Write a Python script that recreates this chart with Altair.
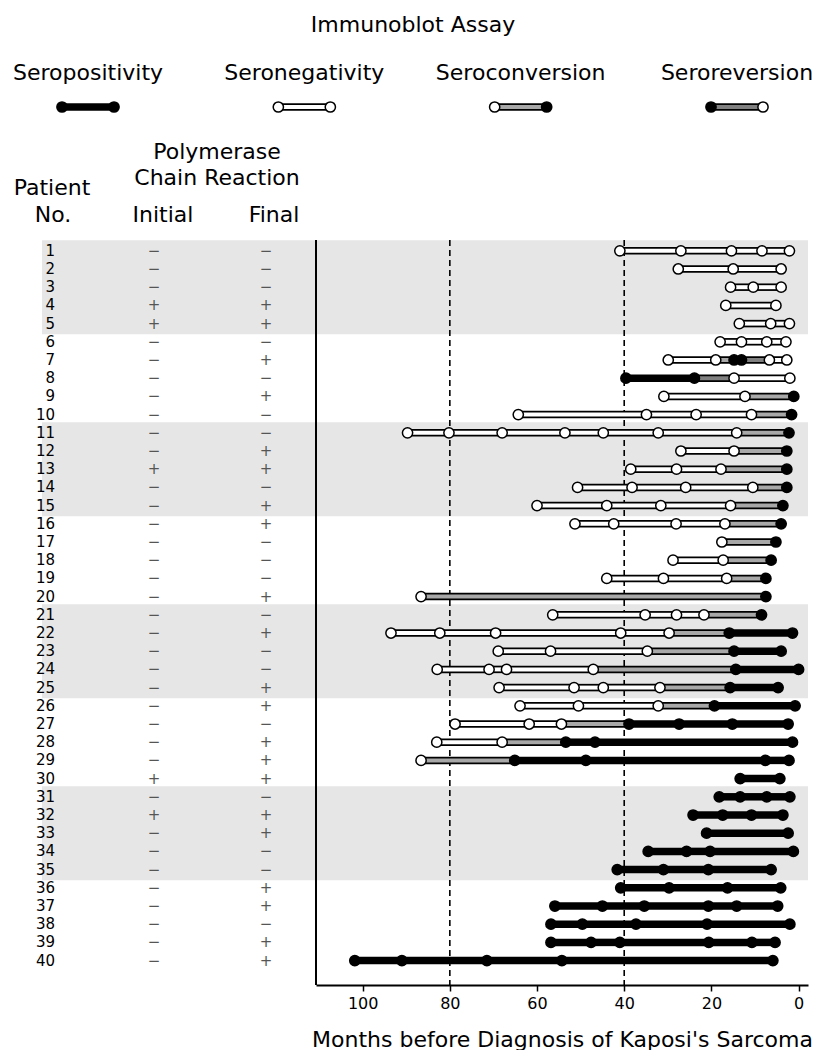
import altair as alt
import pandas as pd

# ---------------- data ----------------
patients = list(range(1, 41))
pcr_initial = ["−", "−", "−", "+", "+", "−", "−", "−", "−", "−",
               "−", "−", "+", "−", "−", "−", "−", "−", "−", "−",
               "−", "−", "−", "−", "−", "−", "−", "−", "−", "+",
               "−", "+", "−", "−", "−", "−", "−", "−", "−", "−"]
pcr_final = ["−", "−", "−", "+", "+", "−", "+", "−", "+", "−",
             "−", "+", "+", "−", "+", "+", "−", "−", "−", "+",
             "−", "+", "−", "−", "+", "+", "−", "+", "+", "+",
             "−", "+", "+", "−", "−", "+", "+", "−", "+", "+"]

# months before diagnosis of each immunoblot test, and result (N = negative, P = positive)
visit_months = [
    [41, 27, 15.4, 8.4, 2.1],
    [27.6, 15, 4],
    [15.6, 10.4, 4],
    [16.7, 5.2],
    [13.6, 6.4, 2.1],
    [18, 13.1, 7.3, 2.9],
    [29.9, 19, 14.8, 13.1, 6.7, 2.7],
    [39.6, 23.9, 14.8, 2.0],
    [30.9, 12.3, 1.1],
    [64.3, 34.9, 23.5, 10.8, 1.6],
    [89.7, 80.2, 68, 53.6, 44.8, 32.2, 14.2, 2.2],
    [27, 14.8, 2.7],
    [38.5, 28, 17.8, 2.7],
    [50.7, 38.2, 25.9, 10.5, 2.7],
    [60, 44, 31.6, 15.6, 3.6],
    [51.3, 42.4, 28.1, 16.9, 4],
    [17.6, 5.2],
    [28.8, 17.3, 6.3],
    [44, 31, 16.5, 7.5],
    [86.6, 7.5],
    [56.4, 35.2, 28, 21.7, 8.5],
    [93.5, 82.3, 69.5, 40.8, 29.7, 15.9, 1.4],
    [68.9, 56.9, 34.7, 14.8, 4],
    [82.9, 71, 67, 47.1, 14.4, 0],
    [68.7, 51.5, 44.8, 31.8, 15.7, 4.7],
    [63.9, 50.5, 32.2, 19.3, 0.8],
    [78.8, 61.8, 54.4, 38.9, 27.4, 15.2, 2.4],
    [83, 68, 53.4, 46.7, 1.4],
    [86.6, 65.1, 48.8, 7.6, 2.2],
    [13.4, 4.3],
    [18.2, 13.4, 7.3, 2],
    [24.2, 17.4, 10.8, 3.6],
    [21.1, 2.4],
    [34.5, 25.7, 20.3, 1.2],
    [41.6, 31, 20.7, 6.3],
    [40.8, 29.7, 16.3, 4.1],
    [55.9, 45, 35.4, 20.7, 14.2, 4.8],
    [56.8, 49.6, 37.3, 21, 2],
    [56.8, 47.6, 41, 20.6, 10.7, 5.4],
    [101.8, 91, 71.5, 54.3, 5.9],
]
visit_status = [
    "NNNNN", "NNN", "NNN", "NN", "NNN", "NNNN", "NNPPNN", "PPNN", "NNP", "NNNNP",
    "NNNNNNNP", "NNP", "NNNP", "NNNNP", "NNNNP", "NNNNP", "NP", "NNP", "NNNP", "NP",
    "NNNNP", "NNNNNPP", "NNNPP", "NNNNPP", "NNNNPP", "NNNPP", "NNNPPPP", "NNPPP", "NPPPP", "PP",
    "PPPP", "PPPP", "PP", "PPPP", "PPPP", "PPPP", "PPPPPP", "PPPPP", "PPPPPP", "PPPPP",
]

kinds = ["Seropositivity", "Seronegativity", "Seroconversion", "Seroreversion"]
kind_fill = ["#000000", "#ffffff", "#a8a8a8", "#808080"]
kind_from = ["P", "N", "N", "P"]
kind_to = ["P", "N", "P", "N"]
axis_ticks = [0, 20, 40, 60, 80, 100]
reference_months = [80, 40]

# ---------------- layout / style ----------------
FONT = "DejaVu Sans"
W_TEXT, W_PLOT, H_PLOT, H_HEAD, W_HEAD = 308, 492, 745, 232, 800
BAND = "#e6e6e6"

# ---------------- tables ----------------
pair_kind = {(f, t): k for k, f, t in zip(kinds, kind_from, kind_to)}
pts, segs = [], []
for p, ms, st in zip(patients, visit_months, visit_status):
    for m, s in zip(ms, st):
        pts.append({"patient": p, "month": m, "status": s})
    for i in range(len(ms) - 1):
        segs.append({"patient": p, "start": ms[i], "end": ms[i + 1],
                     "kind": pair_kind[(st[i], st[i + 1])]})
pts = pd.DataFrame(pts)
segs = pd.DataFrame(segs)

bdf = pd.DataFrame({"patient": patients})
bdf["block"] = (bdf["patient"] - 1) // 5
bands = (bdf[bdf["block"] % 2 == 0].groupby("block")["patient"]
         .agg(["min", "max"]).reset_index())
bands.columns = ["block", "first", "last"]

table = pd.DataFrame({"patient": patients,
                      "No.": [str(p) for p in patients],
                      "Initial": pcr_initial,
                      "Final": pcr_final})
long = table.melt(id_vars="patient", var_name="col", value_name="label")

legend_df = pd.DataFrame({"kind": kinds, "from": kind_from, "to": kind_to})

# ---------------- scales ----------------
y_scale = alt.Scale(domain=[0.407, 41.34], reverse=True, nice=False, zero=False)
x_scale = alt.Scale(domain=[-2.16, 110.7], reverse=True, nice=False, zero=False)
kind_scale = alt.Scale(domain=kinds, range=kind_fill)
status_scale = alt.Scale(domain=["N", "P"], range=["#ffffff", "#000000"])

x_axis = alt.Axis(values=axis_ticks, format="d", grid=False,
                  title="Months before Diagnosis of Kaposi's Sarcoma",
                  domainColor="black", domainWidth=2, tickColor="black",
                  tickWidth=1.5, tickSize=6, labelFont=FONT, labelFontSize=16,
                  labelColor="black", labelPadding=4, titleFont=FONT,
                  titleFontSize=22, titleFontWeight="normal", titleColor="black",
                  titlePadding=18)


def xq(field):
    return alt.X(field, scale=x_scale, axis=x_axis)


def yq(field):
    return alt.Y(field, scale=y_scale, axis=None)


# ---------------- plot panel ----------------
band_plot = alt.Chart(bands).transform_calculate(
    y0="datum.first - 0.58", y1="datum.last + 0.58"
).mark_rect(color=BAND).encode(
    x=alt.value(0), x2=alt.value(W_PLOT), y=yq("y0:Q"), y2="y1:Q")

dashed = alt.Chart(pd.DataFrame({"month": reference_months})).mark_rule(
    color="black", strokeWidth=1.6, strokeDash=[6, 4]
).encode(x=xq("month:Q"))

vline = alt.Chart(alt.Data(values=[{}])).mark_rule(
    color="black", strokeWidth=2
).encode(x=alt.value(0), y=alt.value(0), y2=alt.value(H_PLOT))

seg_outer = alt.Chart(segs).mark_rule(
    color="black", strokeWidth=7.5, strokeCap="butt"
).encode(x=xq("start:Q"), x2="end:Q", y=yq("patient:Q"))

seg_inner = alt.Chart(segs).mark_rule(
    strokeWidth=4, strokeCap="butt", opacity=1
).encode(x=xq("start:Q"), x2="end:Q", y=yq("patient:Q"),
         color=alt.Color("kind:N", scale=kind_scale, legend=None))

points = alt.Chart(pts).mark_circle(
    size=105, stroke="black", strokeWidth=1.5, opacity=1
).encode(x=xq("month:Q"), y=yq("patient:Q"),
         fill=alt.Fill("status:N", scale=status_scale, legend=None))

plot = alt.layer(band_plot, dashed, vline, seg_outer, seg_inner, points).properties(
    width=W_PLOT, height=H_PLOT)

# ---------------- text panel ----------------
x_text = alt.X("col:N", scale=alt.Scale(type="point", domain=["No.", "Initial", "Final"],
                                          range=[34, 258], padding=0), axis=None)

band_text = alt.Chart(bands).transform_calculate(
    y0="datum.first - 0.58", y1="datum.last + 0.58"
).mark_rect(color=BAND).encode(
    x=alt.value(34), x2=alt.value(W_TEXT), y=yq("y0:Q"), y2="y1:Q")

nums = alt.Chart(long).transform_filter("datum.col == 'No.'").mark_text(
    font=FONT, fontSize=15, align="right", dx=13, baseline="middle", color="black"
).encode(x=x_text, y=yq("patient:Q"), text="label:N")

signs = alt.Chart(long).transform_filter("datum.col != 'No.'").mark_text(
    font=FONT, fontSize=15, align="center", baseline="middle", color="#555555"
).encode(x=x_text, y=yq("patient:Q"), text="label:N")

text_panel = alt.layer(band_text, nums, signs).properties(width=W_TEXT, height=H_PLOT)

# ---------------- header panel ----------------
x_leg = alt.X("kind:N", scale=alt.Scale(type="point", domain=kinds, range=[80, 729],
                                          padding=0), axis=None)


def label(txt, x, y, size=22):
    return alt.Chart(alt.Data(values=[{"t": txt}])).mark_text(
        font=FONT, fontSize=size, baseline="middle", align="center", color="black"
    ).encode(x=alt.value(x), y=alt.value(y), text="t:N")


leg_text = alt.Chart(legend_df).mark_text(
    font=FONT, fontSize=22, baseline="middle", align="center", color="black"
).encode(x=x_leg, y=alt.value(65), text="kind:N")

leg_outer = alt.Chart(legend_df).mark_tick(
    orient="horizontal", size=52, thickness=7.5, color="black", opacity=1
).encode(x=x_leg, y=alt.value(99))

leg_inner = alt.Chart(legend_df).mark_tick(
    orient="horizontal", size=52, thickness=4, opacity=1
).encode(x=x_leg, y=alt.value(99),
         color=alt.Color("kind:N", scale=kind_scale, legend=None))

leg_left = alt.Chart(legend_df).mark_circle(
    size=105, stroke="black", strokeWidth=1.5, opacity=1, xOffset=-26
).encode(x=x_leg, y=alt.value(99),
         fill=alt.Fill("from:N", scale=status_scale, legend=None))

leg_right = alt.Chart(legend_df).mark_circle(
    size=105, stroke="black", strokeWidth=1.5, opacity=1, xOffset=26
).encode(x=x_leg, y=alt.value(99),
         fill=alt.Fill("to:N", scale=status_scale, legend=None))

header = alt.layer(
    label("Immunoblot Assay", 405, 17),
    leg_text, leg_outer, leg_inner, leg_left, leg_right,
    label("Polymerase", 209, 144),
    label("Chain Reaction", 209, 170),
    label("Patient", 44, 180),
    label("No.", 45, 207),
    label("Initial", 155, 207),
    label("Final", 266, 207),
).properties(width=W_HEAD, height=H_HEAD)

body = alt.hconcat(text_panel, plot, spacing=0, bounds="flush")
chart = alt.vconcat(header, body, spacing=0, bounds="flush").properties(
    padding=0
).configure_view(strokeWidth=0)

chart.save("out.html", embed_options={"renderer": "svg", "actions": False})
